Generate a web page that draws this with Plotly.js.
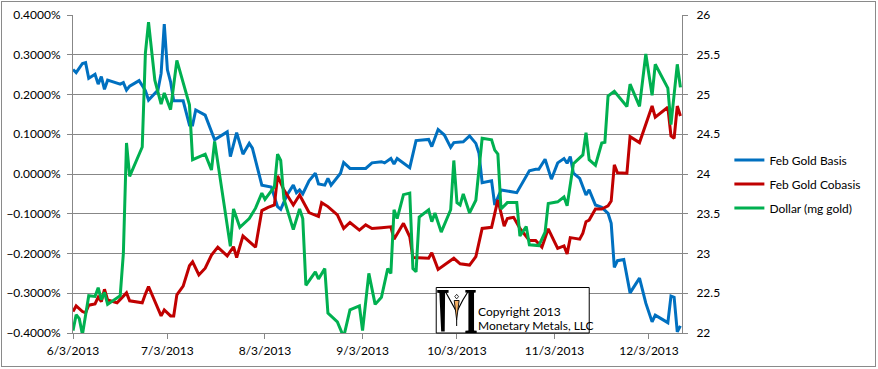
<!DOCTYPE html>
<html>
<head>
<meta charset="utf-8">
<script src="https://cdn.plot.ly/plotly-3.0.1.min.js"></script>
<style>
  html, body { margin: 0; padding: 0; background: #fff; }
  #wrap { position: relative; width: 878px; height: 369px; }
  #chart { width: 878px; height: 369px; }
  #frame { position: absolute; left: 1px; top: 1px; width: 873px; height: 364px; border: 1px solid #8a8a8a; pointer-events: none; }
</style>
</head>
<body>
<div id="wrap"><div id="chart"></div><div id="frame"></div></div>
<script>
// ---------------- DATA ----------------
const seriesNames = ['Feb Gold Basis', 'Feb Gold Cobasis', 'Dollar (mg gold)'];

const basisDates = [
  '2013-06-03','2013-06-04','2013-06-06','2013-06-07','2013-06-08','2013-06-10','2013-06-11','2013-06-12','2013-06-13','2013-06-14',
  '2013-06-18','2013-06-19','2013-06-20','2013-06-21','2013-06-24','2013-06-26','2013-06-27','2013-06-30','2013-07-01','2013-07-02',
  '2013-07-03','2013-07-04','2013-07-05','2013-07-08','2013-07-10','2013-07-11','2013-07-12','2013-07-15','2013-07-18','2013-07-22',
  '2013-07-23','2013-07-25','2013-07-27','2013-07-29','2013-07-30','2013-08-02','2013-08-05','2013-08-07','2013-08-08','2013-08-10',
  '2013-08-12','2013-08-13','2013-08-14','2013-08-15','2013-08-17','2013-08-19','2013-08-20','2013-08-22','2013-08-23','2013-08-24',
  '2013-08-27','2013-08-28','2013-08-30','2013-09-04','2013-09-06','2013-09-09','2013-09-10','2013-09-12','2013-09-13','2013-09-14',
  '2013-09-18','2013-09-20','2013-09-24','2013-09-25','2013-09-27','2013-09-29','2013-10-01','2013-10-02','2013-10-05','2013-10-07',
  '2013-10-09','2013-10-10','2013-10-11','2013-10-14','2013-10-15','2013-10-17','2013-10-22','2013-10-24','2013-10-26','2013-10-28',
  '2013-10-29','2013-10-31','2013-11-02','2013-11-04','2013-11-06','2013-11-07','2013-11-08','2013-11-09','2013-11-11','2013-11-13',
  '2013-11-14','2013-11-16','2013-11-18','2013-11-20','2013-11-21','2013-11-22','2013-11-23','2013-11-25','2013-11-27','2013-11-30',
  '2013-12-02','2013-12-04','2013-12-05','2013-12-09','2013-12-10','2013-12-11','2013-12-12','2013-12-13'
];
const basisValues = [
  0.263, 0.255, 0.278, 0.280, 0.241, 0.251, 0.226, 0.245, 0.213, 0.236,
  0.226, 0.230, 0.211, 0.221, 0.235, 0.210, 0.186, 0.211, 0.253, 0.377,
  0.262, 0.232, 0.184, 0.184, 0.123, 0.123, 0.161, 0.148, 0.086, 0.106,
  0.044, 0.104, 0.050, 0.077, 0.065, -0.028, -0.033, -0.082, -0.089, -0.053,
  -0.028, -0.047, -0.040, -0.050, -0.017, 0.002, -0.025, -0.028, -0.011, -0.028,
  0.002, 0.029, 0.014, 0.014, 0.028, 0.031, 0.028, 0.039, 0.025, 0.039,
  0.016, 0.084, 0.087, 0.069, 0.112, 0.098, 0.067, 0.079, 0.081, 0.096,
  0.077, 0.052, -0.022, -0.017, -0.078, -0.040, -0.047, -0.020, 0.008, 0.012,
  0.012, 0.037, -0.013, 0.028, 0.039, 0.027, 0.044, 0.002, -0.011, -0.053,
  -0.040, -0.078, -0.084, -0.099, -0.124, -0.235, -0.218, -0.215, -0.299, -0.262,
  -0.325, -0.372, -0.355, -0.374, -0.307, -0.310, -0.397, -0.382
];

const cobasisDates = [
  '2013-06-03','2013-06-04','2013-06-06','2013-06-07','2013-06-08','2013-06-10','2013-06-11','2013-06-12','2013-06-13','2013-06-14',
  '2013-06-17','2013-06-20','2013-06-21','2013-06-25','2013-06-26','2013-06-27','2013-07-01','2013-07-02','2013-07-04','2013-07-05',
  '2013-07-06','2013-07-08','2013-07-10','2013-07-11','2013-07-13','2013-07-15','2013-07-17','2013-07-19','2013-07-22','2013-07-24',
  '2013-07-25','2013-07-27','2013-07-31','2013-08-02','2013-08-04','2013-08-06','2013-08-07','2013-08-09','2013-08-12','2013-08-14',
  '2013-08-17','2013-08-20','2013-08-21','2013-08-23','2013-08-26','2013-08-28','2013-08-30','2013-09-02','2013-09-04','2013-09-06',
  '2013-09-09','2013-09-12','2013-09-13','2013-09-16','2013-09-18','2013-09-19','2013-09-24','2013-09-25','2013-09-27','2013-10-02',
  '2013-10-04','2013-10-07','2013-10-09','2013-10-11','2013-10-14','2013-10-16','2013-10-18','2013-10-19','2013-10-21','2013-10-23',
  '2013-10-26','2013-10-28','2013-10-30','2013-11-01','2013-11-04','2013-11-06','2013-11-07','2013-11-08','2013-11-11','2013-11-12',
  '2013-11-13','2013-11-14','2013-11-16','2013-11-18','2013-11-20','2013-11-21','2013-11-22','2013-11-23','2013-11-26','2013-11-27',
  '2013-11-30','2013-12-02','2013-12-04','2013-12-05','2013-12-09','2013-12-10','2013-12-11','2013-12-12','2013-12-13'
];
const cobasisValues = [
  -0.346, -0.332, -0.346, -0.349, -0.330, -0.327, -0.310, -0.321, -0.290, -0.317,
  -0.324, -0.299, -0.319, -0.324, -0.302, -0.283, -0.357, -0.342, -0.357, -0.357,
  -0.304, -0.282, -0.231, -0.221, -0.254, -0.237, -0.204, -0.184, -0.206, -0.183,
  -0.210, -0.156, -0.184, -0.092, -0.084, -0.078, -0.005, -0.040, -0.078, -0.053,
  -0.097, -0.107, -0.072, -0.082, -0.103, -0.137, -0.122, -0.141, -0.128, -0.137,
  -0.135, -0.133, -0.164, -0.124, -0.158, -0.210, -0.212, -0.198, -0.240, -0.212,
  -0.226, -0.229, -0.208, -0.137, -0.134, -0.065, -0.131, -0.112, -0.109, -0.137,
  -0.167, -0.167, -0.184, -0.138, -0.187, -0.181, -0.201, -0.160, -0.164, -0.149,
  -0.120, -0.116, -0.088, -0.088, -0.080, -0.068, 0.023, 0.003, 0.002, 0.094,
  0.079, 0.123, 0.171, 0.143, 0.168, 0.096, 0.090, 0.171, 0.146
];

const dollarDates = [
  '2013-06-03','2013-06-04','2013-06-05','2013-06-06','2013-06-08','2013-06-10','2013-06-11','2013-06-12','2013-06-13','2013-06-14',
  '2013-06-18','2013-06-19','2013-06-20','2013-06-21','2013-06-25','2013-06-26','2013-06-27','2013-06-29','2013-07-01','2013-07-02',
  '2013-07-04','2013-07-06','2013-07-08','2013-07-10','2013-07-11','2013-07-15','2013-07-17','2013-07-18','2013-07-23','2013-07-24',
  '2013-07-26','2013-07-29','2013-07-31','2013-08-02','2013-08-03','2013-08-06','2013-08-07','2013-08-08','2013-08-09','2013-08-12',
  '2013-08-14','2013-08-15','2013-08-16','2013-08-19','2013-08-20','2013-08-22','2013-08-23','2013-08-26','2013-08-28','2013-08-30',
  '2013-09-02','2013-09-03','2013-09-05','2013-09-07','2013-09-09','2013-09-11','2013-09-12','2013-09-13','2013-09-14','2013-09-15',
  '2013-09-16','2013-09-18','2013-09-19','2013-09-20','2013-09-21','2013-09-24','2013-09-25','2013-09-26','2013-09-28','2013-10-01',
  '2013-10-02','2013-10-03','2013-10-04','2013-10-05','2013-10-07','2013-10-09','2013-10-11','2013-10-14','2013-10-15','2013-10-16',
  '2013-10-17','2013-10-19','2013-10-22','2013-10-23','2013-10-25','2013-10-26','2013-10-29','2013-10-31','2013-11-01','2013-11-04',
  '2013-11-06','2013-11-07','2013-11-08','2013-11-09','2013-11-12','2013-11-13','2013-11-14','2013-11-16','2013-11-18','2013-11-19',
  '2013-11-20','2013-11-22','2013-11-26','2013-11-27','2013-11-30','2013-12-02','2013-12-04','2013-12-05','2013-12-09','2013-12-10',
  '2013-12-12','2013-12-13'
];
const dollarValues = [
  22.03, 22.23, 22.18, 21.98, 22.47, 22.46, 22.57, 22.42, 22.51, 22.36,
  22.47, 23.00, 24.39, 23.97, 24.34, 25.52, 25.91, 25.18, 24.88, 25.02,
  24.81, 25.43, 25.15, 24.87, 24.18, 24.25, 24.05, 24.41, 23.09, 23.56,
  23.33, 23.44, 23.57, 23.76, 23.68, 23.84, 24.25, 24.17, 23.69, 23.30,
  23.56, 23.44, 22.60, 22.77, 22.68, 22.81, 22.25, 22.14, 21.95, 22.29,
  22.34, 22.03, 22.75, 22.36, 22.45, 22.81, 22.75, 23.55, 23.44, 23.59,
  23.74, 23.76, 22.81, 22.77, 23.46, 23.55, 23.40, 23.51, 23.27, 23.55,
  24.17, 23.64, 23.61, 23.75, 23.51, 23.67, 24.45, 24.43, 24.30, 24.25,
  23.56, 23.64, 23.64, 23.22, 23.34, 23.11, 23.10, 23.27, 23.63, 23.65,
  23.71, 23.60, 23.89, 24.13, 24.24, 24.52, 24.18, 24.11, 24.39, 24.40,
  24.98, 25.04, 24.85, 25.13, 24.85, 25.51, 24.99, 25.38, 25.08, 24.62,
  25.38, 25.09
];

const xTickStart = '2013-06-03';
const xRange = ['2013-06-03', '2013-12-13 12:00'];
const yLeftRange = [-0.4, 0.4];
const yRightRange = [22, 26];
const copyrightLines = ['Copyright 2013', 'Monetary Metals, LLC'];

// ---------------- STYLE ----------------
const W = 878, H = 369;
const M = { l: 73, r: 188, t: 15, b: 36 };
const plotW = W - M.l - M.r, plotH = H - M.t - M.b;
const px = x => (x - M.l) / plotW;          // pixel -> paper (x)
const py = y => (H - M.b - y) / plotH;      // pixel -> paper (y)
const gridCol = '#878787';
const FONT = 'Lato, "Open Sans", sans-serif';
const colors = ['#0070C0', '#C00000', '#00B050'];

function poly(points) {
  return 'M' + points.map(p => px(p[0]).toFixed(5) + ',' + py(p[1]).toFixed(5)).join(' L') + ' Z';
}
function line(points) {
  return 'M' + points.map(p => px(p[0]).toFixed(5) + ',' + py(p[1]).toFixed(5)).join(' L');
}

const traces = [
  { x: basisDates, y: basisValues, name: seriesNames[0], yaxis: 'y', legendgroup: 'a' },
  { x: cobasisDates, y: cobasisValues, name: seriesNames[1], yaxis: 'y', legendgroup: 'b' },
  { x: dollarDates, y: dollarValues, name: seriesNames[2], yaxis: 'y2', legendgroup: 'c' }
].map((t, i) => Object.assign(t, {
  type: 'scatter', mode: 'lines',
  line: { color: colors[i], width: 3, shape: 'linear' },
  hoverinfo: 'skip'
}));

const logoShapes = [
  // box
  { type: 'rect', xref: 'paper', yref: 'paper', x0: px(441), x1: px(596), y0: py(287.5), y1: py(333),
    fillcolor: '#ffffff', line: { color: '#000000', width: 1 }, layer: 'above' },
  // M logo: left serif + stem
  { type: 'path', xref: 'paper', yref: 'paper', layer: 'above', line: { width: 0 }, fillcolor: '#000',
    path: poly([[442, 290], [453.5, 290], [453.5, 292.8], [450, 293], [449.6, 331.5], [446, 331.5], [444.2, 293], [442, 292.8]]) },
  // right serif + stem + bottom serif
  { type: 'path', xref: 'paper', yref: 'paper', layer: 'above', line: { width: 0 }, fillcolor: '#000',
    path: poly([[470.5, 290], [481, 290], [481, 292.6], [479.3, 292.8], [479.3, 330.6], [482, 330.8], [482, 333], [470.5, 333], [470.5, 330.8], [473.6, 330.6], [473.6, 292.8], [470.5, 292.6]]) },
  // V strokes
  { type: 'path', xref: 'paper', yref: 'paper', layer: 'above', line: { color: '#000', width: 1.2 },
    path: line([[450.5, 292], [455, 300], [461.7, 312]]) },
  { type: 'path', xref: 'paper', yref: 'paper', layer: 'above', line: { color: '#000', width: 1.2 },
    path: line([[461.7, 312], [468, 300], [473, 292]]) },
  // small diamond head
  { type: 'path', xref: 'paper', yref: 'paper', layer: 'above', line: { color: '#000', width: 0.8 }, fillcolor: '#ffffff',
    path: poly([[461.7, 294.3], [463.6, 296.6], [461.7, 298.9], [459.8, 296.6]]) },
  // orange body
  { type: 'path', xref: 'paper', yref: 'paper', layer: 'above', line: { color: '#000', width: 0.9 }, fillcolor: '#F4AE62',
    path: poly([[459.2, 300.5], [464.2, 300.5], [463.2, 308], [461.7, 320], [460.2, 308]]) },
  // tail
  { type: 'path', xref: 'paper', yref: 'paper', layer: 'above', line: { color: '#000', width: 1 },
    path: line([[461.7, 320], [461.7, 326]]) }
];

const layout = {
  width: W, height: H,
  margin: M,
  paper_bgcolor: '#ffffff', plot_bgcolor: '#ffffff',
  font: { family: FONT, size: 12, color: '#000000' },
  showlegend: true,
  legend: {
    x: px(738), xanchor: 'left', y: py(184), yanchor: 'middle',
    font: { family: FONT, size: 12, color: '#000000' },
    traceorder: 'grouped', tracegroupgap: 5, bgcolor: 'rgba(0,0,0,0)', borderwidth: 0
  },
  xaxis: {
    type: 'date', range: xRange, tick0: xTickStart, dtick: 'M1', tickformat: '%-m/%-d/%Y',
    showgrid: false, zeroline: false, showline: true, linecolor: gridCol, linewidth: 1,
    ticks: 'outside', ticklen: 5, tickcolor: gridCol, tickwidth: 1, ticklabelstandoff: 2,
    tickfont: { family: FONT, size: 12, color: '#000' }
  },
  yaxis: {
    range: yLeftRange, dtick: 0.1, tick0: 0, tickformat: '.4f', ticksuffix: '%',
    showgrid: true, gridcolor: gridCol, gridwidth: 1, zeroline: false,
    showline: true, linecolor: gridCol, linewidth: 1,
    ticks: 'outside', ticklen: 5, tickcolor: gridCol, tickwidth: 1, ticklabelstandoff: 4,
    tickfont: { family: FONT, size: 12, color: '#000' }
  },
  yaxis2: {
    range: yRightRange, dtick: 0.5, tick0: 22, overlaying: 'y', side: 'right',
    showgrid: false, zeroline: false, showline: true, linecolor: gridCol, linewidth: 1,
    ticks: 'outside', ticklen: 5, tickcolor: gridCol, tickwidth: 1, ticklabelstandoff: 6,
    tickfont: { family: FONT, size: 12, color: '#000' }
  },
  shapes: logoShapes,
  annotations: [
    { xref: 'paper', yref: 'paper', x: px(481), y: py(311), xanchor: 'left', yanchor: 'middle',
      text: copyrightLines[0], showarrow: false, font: { family: FONT, size: 12, color: '#000' } },
    { xref: 'paper', yref: 'paper', x: px(481), y: py(325), xanchor: 'left', yanchor: 'middle',
      text: copyrightLines[1], showarrow: false, font: { family: FONT, size: 12, color: '#000' } }
  ]
};

Plotly.newPlot('chart', traces, layout, { staticPlot: true, displayModeBar: false });
</script>
</body>
</html>
